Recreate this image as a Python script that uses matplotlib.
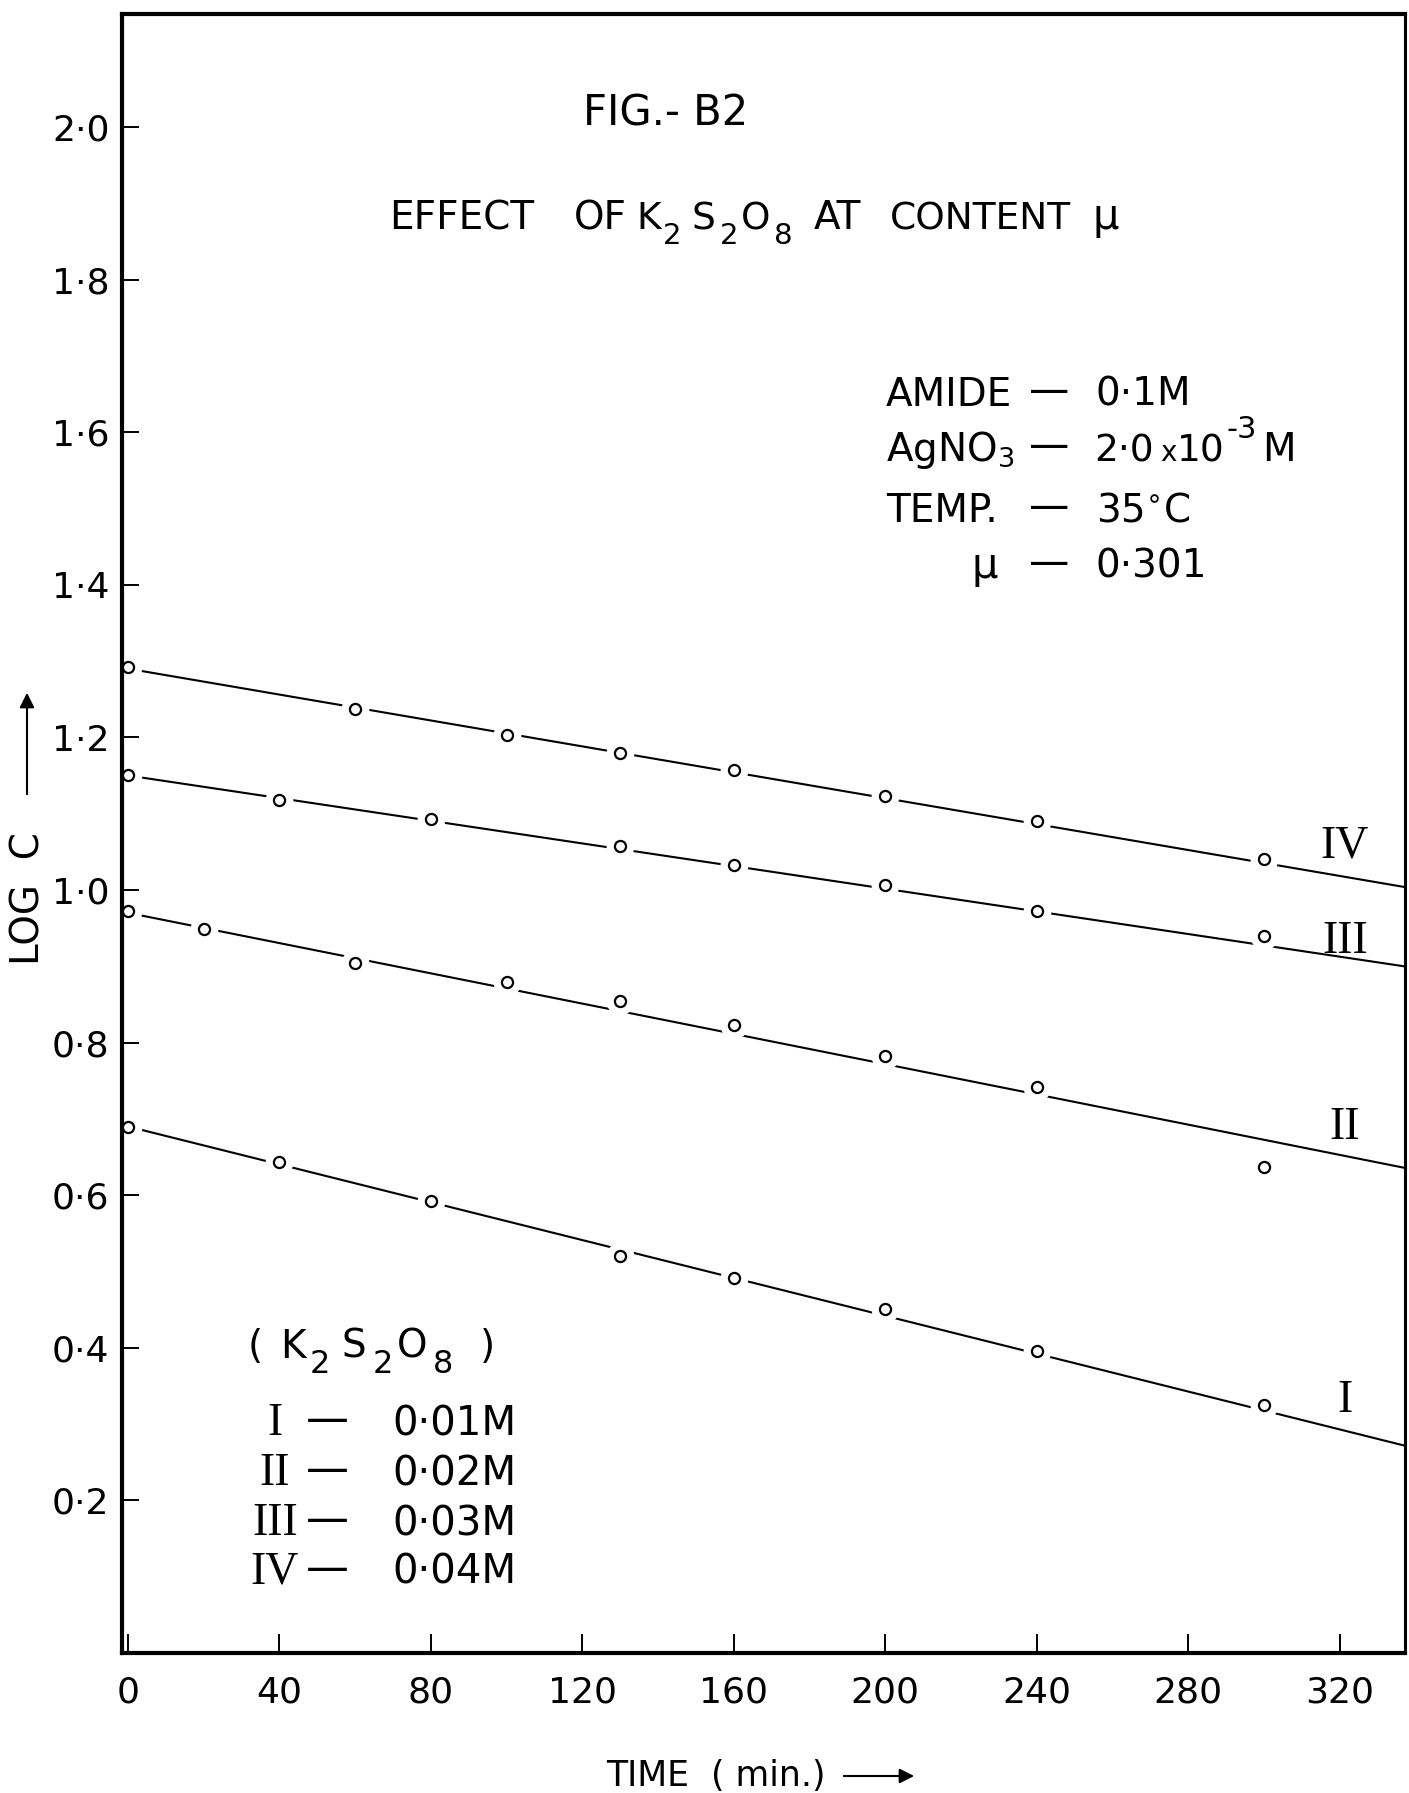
import matplotlib
matplotlib.use("Agg")
import matplotlib.pyplot as plt
import numpy as np

W, H = 1409, 1793

# values: time (min) and log C
time_I = [0, 40, 80, 130, 160, 200, 240, 300]
logc_I = [0.689, 0.643, 0.593, 0.520, 0.491, 0.451, 0.396, 0.325]
time_II = [0, 20, 60, 100, 130, 160, 200, 240, 300]
logc_II = [0.973, 0.949, 0.904, 0.880, 0.854, 0.823, 0.782, 0.742, 0.637]
time_III = [0, 40, 80, 130, 160, 200, 240, 300]
logc_III = [1.151, 1.118, 1.093, 1.057, 1.033, 1.007, 0.972, 0.940]
time_IV = [0, 60, 100, 130, 160, 200, 240, 300]
logc_IV = [1.292, 1.237, 1.203, 1.180, 1.157, 1.123, 1.091, 1.041]

# hand drawn lines: log C at t = 0 and at the right border
line_t = [0, 337]
line_I = [0.690, 0.272]
line_II = [0.970, 0.636]
line_III = [1.150, 0.900]
line_IV = [1.290, 1.004]

series_names = ["I", "II", "III", "IV"]
conc_labels = ["0·01M", "0·02M", "0·03M", "0·04M"]

x_ticks = [0, 40, 80, 120, 160, 200, 240, 280, 320]
y_ticks = [0.2, 0.4, 0.6, 0.8, 1.0, 1.2, 1.4, 1.6, 1.8, 2.0]
y_ticklabels = ["0·2", "0·4", "0·6", "0·8", "1·0", "1·2", "1·4", "1·6", "1·8", "2·0"]

SANS = ["DejaVu Sans"]
SERIF = ["Liberation Serif", "DejaVu Serif"]
plt.rcParams["font.family"] = SANS
plt.rcParams["mathtext.default"] = "regular"


def fx(x):
    return x / W


def fy(y):
    return 1 - y / H


def txt(x, yb, s, size=28, ha="left", **kw):
    fig.text(fx(x), fy(yb), s, ha=ha, va="baseline", fontsize=size, **kw)


def k2s2o8(x0, yb, k=1.0, size=28, subsize=23):
    # K2S2O8 with large, low subscripts as in the hand lettering
    pieces = [("K", 0, False), ("2", 30, True), ("S", 62, False),
              ("2", 93, True), ("O", 117, False), ("8", 153, True)]
    for s, dx, sub in pieces:
        if sub:
            txt(x0 + dx * k, yb + 15, s, size=subsize)
        else:
            txt(x0 + dx * k, yb, s, size=size)


fig = plt.figure(figsize=(W / 100, H / 100), dpi=100)
ax = fig.add_axes([fx(122), fy(1653), fx(1405) - fx(122), fy(14) - fy(1653)])

data = [(time_I, logc_I, line_I), (time_II, logc_II, line_II),
        (time_III, logc_III, line_III), (time_IV, logc_IV, line_IV)]
for t, v, ln in data:
    ax.plot(line_t, ln, color="black", lw=1.5, zorder=2)
    # white halo so the line stops short of each circle
    ax.plot(t, v, ls="none", marker="o", ms=20, mfc="white", mec="none",
            zorder=2.2, clip_on=False)
    ax.plot(t, v, ls="none", marker="o", ms=8, mfc="white", mec="black",
            mew=1.6, zorder=3, clip_on=False)

ax.set_xlim(-1.6, 337.3)
ax.set_ylim(0, 2.148)
ax.set_xticks(x_ticks)
ax.set_xticklabels([str(v) for v in x_ticks])
ax.set_yticks(y_ticks)
ax.set_yticklabels(y_ticklabels)
ax.tick_params(axis="y", direction="in", length=12, width=1.4, pad=9, labelsize=26)
ax.tick_params(axis="x", direction="in", length=14, width=1.4, pad=16, labelsize=26)
for s in ["left", "bottom", "top"]:
    ax.spines[s].set_linewidth(3)
ax.spines["right"].set_linewidth(2.2)

# titles
txt(666, 126, "FIG.- B2", size=30, ha="center")
txt(389, 229, "EFFECT", size=28)
txt(574, 229, "OF", size=28)
k2s2o8(636, 229, k=0.9, size=27, subsize=21)
txt(814, 229, "AT", size=28)
txt(890, 229, "CONTENT", size=27)
txt(1092, 229, "μ", size=30)

# conditions block
txt(886, 406, "AMIDE")
txt(886, 461, "AgNO$_3$")
txt(886, 522, "TEMP.")
txt(985, 578, "μ", size=30, ha="center")
for yb in [406, 461, 522, 578]:
    txt(1049, yb - 3, "—", size=29, ha="center")
txt(1096, 406, "0·1M")
txt(1094, 461, "2·0", size=27)
txt(1160, 461, "x", size=20)
txt(1177, 461, "10", size=27)
txt(1227, 438, "-3", size=22)
txt(1262, 461, "M")
txt(1096, 522, "35$^{\\circ}$C")
txt(1096, 578, "0·301")

# legend block
txt(248, 1358, "(")
k2s2o8(280, 1358)
txt(480, 1358, ")")
leg_base = [1435, 1485, 1535, 1584]
for name, conc, yb in zip(series_names, conc_labels, leg_base):
    txt(275, yb, name, size=33, ha="center", family=SERIF)
    txt(327, yb - 3, "—", size=31, ha="center")
    txt(392, yb, conc, size=29)

# labels at the end of each line
end_base = [1412, 1139, 953, 858]
for name, yb in zip(series_names, end_base):
    txt(1345, yb, name, size=33, ha="center", family=SERIF)

# axis labels with arrows
fig.text(fx(29), fy(899), "LOG  C", rotation=90, ha="center", va="center", fontsize=28)
ax.annotate("", xy=(fx(27), fy(690)), xytext=(fx(27), fy(797)),
            xycoords="figure fraction", textcoords="figure fraction",
            arrowprops=dict(arrowstyle="-|>", color="black", lw=1.5, mutation_scale=22))
txt(606, 1786, "TIME", size=25)
txt(711, 1786, "( min.)", size=25)
ax.annotate("", xy=(fx(917), fy(1776)), xytext=(fx(841), fy(1776)),
            xycoords="figure fraction", textcoords="figure fraction",
            arrowprops=dict(arrowstyle="-|>", color="black", lw=1.5, mutation_scale=22))

fig.savefig("out.png", dpi=100)
